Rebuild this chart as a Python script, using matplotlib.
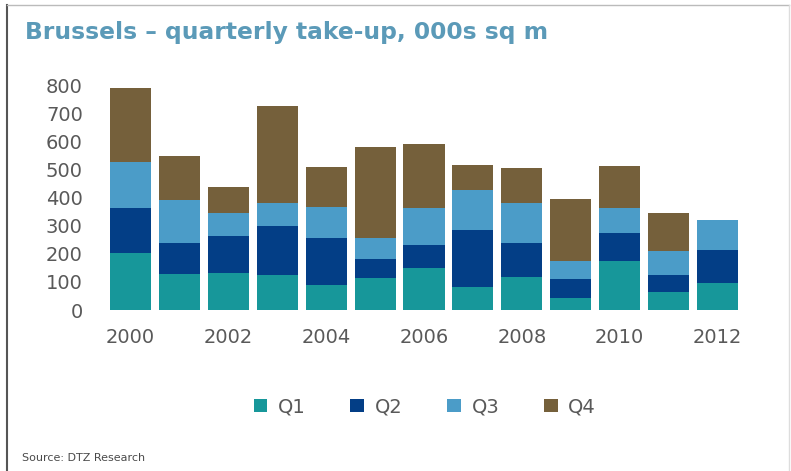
import matplotlib
matplotlib.use("Agg")
import numpy as np
import matplotlib.pyplot as plt
from matplotlib.patches import Patch
from matplotlib.lines import Line2D

years = [2000, 2001, 2002, 2003, 2004, 2005, 2006, 2007, 2008, 2009, 2010, 2011, 2012]
q1 = [204, 127, 130, 125, 89, 113, 148, 83, 116, 44, 174, 63, 97]
q2 = [158, 113, 133, 172, 166, 68, 83, 202, 124, 65, 101, 62, 117]
q3 = [166, 151, 83, 83, 110, 76, 133, 142, 142, 65, 87, 85, 106]
q4 = [261, 158, 93, 347, 143, 321, 227, 89, 122, 221, 150, 134, 0]
series_names = ["Q1", "Q2", "Q3", "Q4"]
y_ticks = [0, 100, 200, 300, 400, 500, 600, 700, 800]
x_tick_years = [2000, 2002, 2004, 2006, 2008, 2010, 2012]

COLORS = ["#17979a", "#033e86", "#4b9cc8", "#75603b"]
TEXT_GREY = "#595959"

fig = plt.figure(figsize=(7.91, 4.71), dpi=100)
ax = fig.add_axes([0.131, 0.3418, 0.810, 0.4777])

x = np.arange(len(years))
bottom = np.zeros(len(years))
for vals, color, name in zip([q1, q2, q3, q4], COLORS, series_names):
    ax.bar(x, vals, width=0.84, bottom=bottom, color=color, label=name)
    bottom += np.array(vals)

ax.set_xlim(-0.55, len(years) - 0.45)
ax.set_ylim(0, 800)
ax.set_yticks(y_ticks)
ax.set_yticklabels([str(v) for v in y_ticks])
ax.set_xticks([years.index(y) for y in x_tick_years])
ax.set_xticklabels([str(y) for y in x_tick_years])
ax.tick_params(axis="both", length=0, labelsize=14, labelcolor=TEXT_GREY)
ax.tick_params(axis="y", pad=15)
ax.tick_params(axis="x", pad=13)
for s in ax.spines.values():
    s.set_visible(False)

fig.text(0.031, 0.932, "Brussels \u2013 quarterly take-up, 000s sq m", fontsize=16.8,
         fontweight="bold", color="#5b9ab8", va="center", ha="left")

handles = [Patch(facecolor=c, edgecolor="none") for c in COLORS]
fig.legend(handles, series_names, loc="center", bbox_to_anchor=(0.537, 0.136), ncol=4,
           frameon=False, handlelength=0.7, handleheight=0.7, handletextpad=0.55,
           columnspacing=2.3, prop={"size": 14}, labelcolor=TEXT_GREY)

fig.text(0.028, 0.027, "Source: DTZ Research", fontsize=8, color="#4a4a4a", va="center", ha="left")

# outer frame
fig.add_artist(Line2D([0.009, 0.009], [0, 0.989], transform=fig.transFigure, color="#555555", lw=1.5))
fig.add_artist(Line2D([0.009, 0.998], [0.989, 0.989], transform=fig.transFigure, color="#bbbbbb", lw=1))
fig.add_artist(Line2D([0.997, 0.997], [0, 0.989], transform=fig.transFigure, color="#dddddd", lw=1))

fig.savefig("out.png", dpi=100)
